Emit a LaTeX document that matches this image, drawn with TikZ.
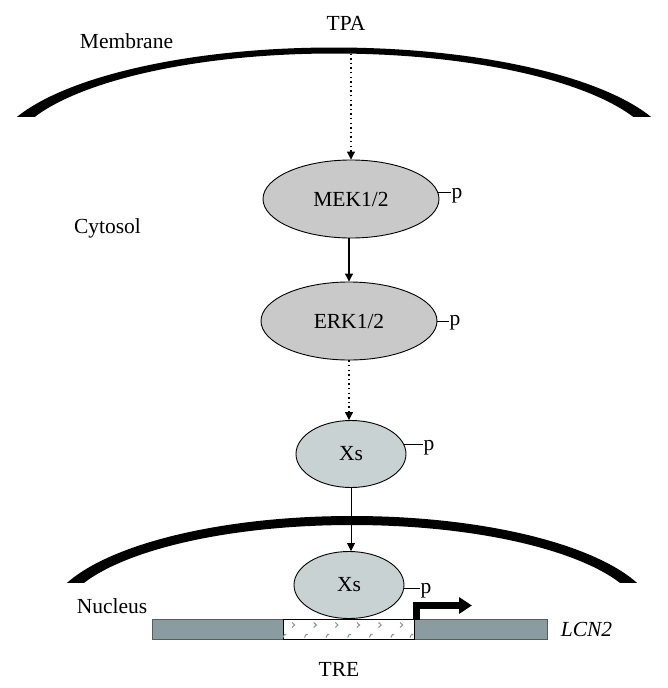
\documentclass[tikz,border=0pt]{standalone}
\usepackage{fontspec}
\setmainfont{Liberation Serif}
\usetikzlibrary{shapes.geometric,arrows.meta}
\definecolor{kinase}{HTML}{C9C9C9}
\definecolor{xsfill}{HTML}{C8D2D2}
\definecolor{dnabar}{HTML}{8B9CA1}
\definecolor{tremark}{HTML}{8E989B}
\tikzset{
  every node/.style={font=\fontsize{21.5}{24}\selectfont},
  kin/.style={ellipse, draw=black, line width=0.9pt, fill=kinase, minimum width=176pt, minimum height=78pt, inner sep=0pt},
  xs/.style={ellipse, draw=black, line width=0.9pt, fill=xsfill, minimum width=110pt, minimum height=67pt, inner sep=0pt},
  plabel/.style={anchor=west, inner sep=0.5pt},
  pline/.style={line width=0.8pt},
  tip/.style={-{Triangle[length=8pt,width=8pt]}},
  dotarrow/.style={tip, line width=1.1pt, dash pattern=on 1.4pt off 3.2pt},
  solidarrow/.style={tip, line width=1.1pt},
  lbl/.style={inner sep=0pt}
}
\begin{document}
\begin{tikzpicture}[x=1pt,y=-1pt]
\useasboundingbox (0,0) rectangle (668,688);
\fill[white] (0,0) rectangle (668,688);

% cell membrane
\begin{scope}
\clip (0,0) rectangle (668,116);
\fill[black, even odd rule] (334,157.5) ellipse [x radius=341pt, y radius=110pt]
                            (334,157.5) ellipse [x radius=325pt, y radius=104pt];
\end{scope}
% nuclear membrane
\begin{scope}
\clip (0,0) rectangle (668,582);
\fill[black, even odd rule] (352,620) ellipse [x radius=305pt, y radius=104pt]
                            (352,620) ellipse [x radius=291pt, y radius=95pt];
\end{scope}

% labels
\node[lbl] (tpa) at (346,23.5) {TPA};
\node[lbl] (membrane) at (126.5,41.5) {Membrane};
\node[lbl, anchor=base] (cytosol) at (107.5,233) {Cytosol};
\node[lbl, anchor=base] (nucleus) at (112,613) {Nucleus};
\node[lbl] (lcn) at (586.5,629) {\itshape LCN2};
\node[lbl] (tre) at (339,669) {TRE};

% DNA bar
\draw[dnabar!60!black, line width=0.8pt, fill=dnabar] (152,619.5) rectangle (547,639.5);
\draw[black, line width=0.8pt, fill=white] (283,619.5) rectangle (414,639.5);
\foreach \x in {293.3,314.9,336.5,358.1,379.7,401.3}{
  \draw[tremark, line width=1.1pt] (\x-1.2,622.5) -- (\x+1.4,625) -- (\x-1.2,627.5);
}
\foreach \x in {284.5,306,327.6,349.2,370.8,392.4,411.5}{
  \draw[tremark, line width=1.1pt] (\x-1.5,637.5) -- (\x,634.5) -- (\x+1.8,634.5);
}
% promoter arrow
\coordinate (prom) at (416,619.5);
\draw[line width=7pt, line join=miter, -{Triangle[length=13pt,width=16pt]}] (prom) -- (416,605.5) -- (472,605.5);

% proteins
\node[kin] (mek) at (351,199) {MEK1/2};
\node[kin] (erk) at (349,321) {ERK1/2};
\node[xs] (xs1) at (351,454) {Xs};
\node[xs] (xs2) at (349,585) {Xs};

% phosphates
\node[plabel] (mekp) at (451,195.4) {p};
\node[plabel] (erkp) at (449,323.1) {p};
\node[plabel] (xs1p) at (423,447.4) {p};
\node[plabel] (xs2p) at (420,590.4) {p};
\draw[pline] (mek.4) -- (mek.4 -| mekp.west);
\draw[pline] (erk.east) -- (erk.east -| erkp.west);
\draw[pline] (xs1.10) -- (xs1.10 -| xs1p.west);
\draw[pline] (xs2.-3) -- (xs2.-3 -| xs2p.west);

% signalling arrows
\coordinate (memb) at (351,53.5);
\draw[dotarrow] (memb) -- (mek.north);
\draw[solidarrow] (mek.south -| erk.north) -- (erk.north);
\draw[dotarrow] (erk.south) -- (erk.south |- xs1.north);
\draw[tip, line width=0.8pt] (xs1.south) -- (xs1.south |- xs2.north);
\end{tikzpicture}
\end{document}
